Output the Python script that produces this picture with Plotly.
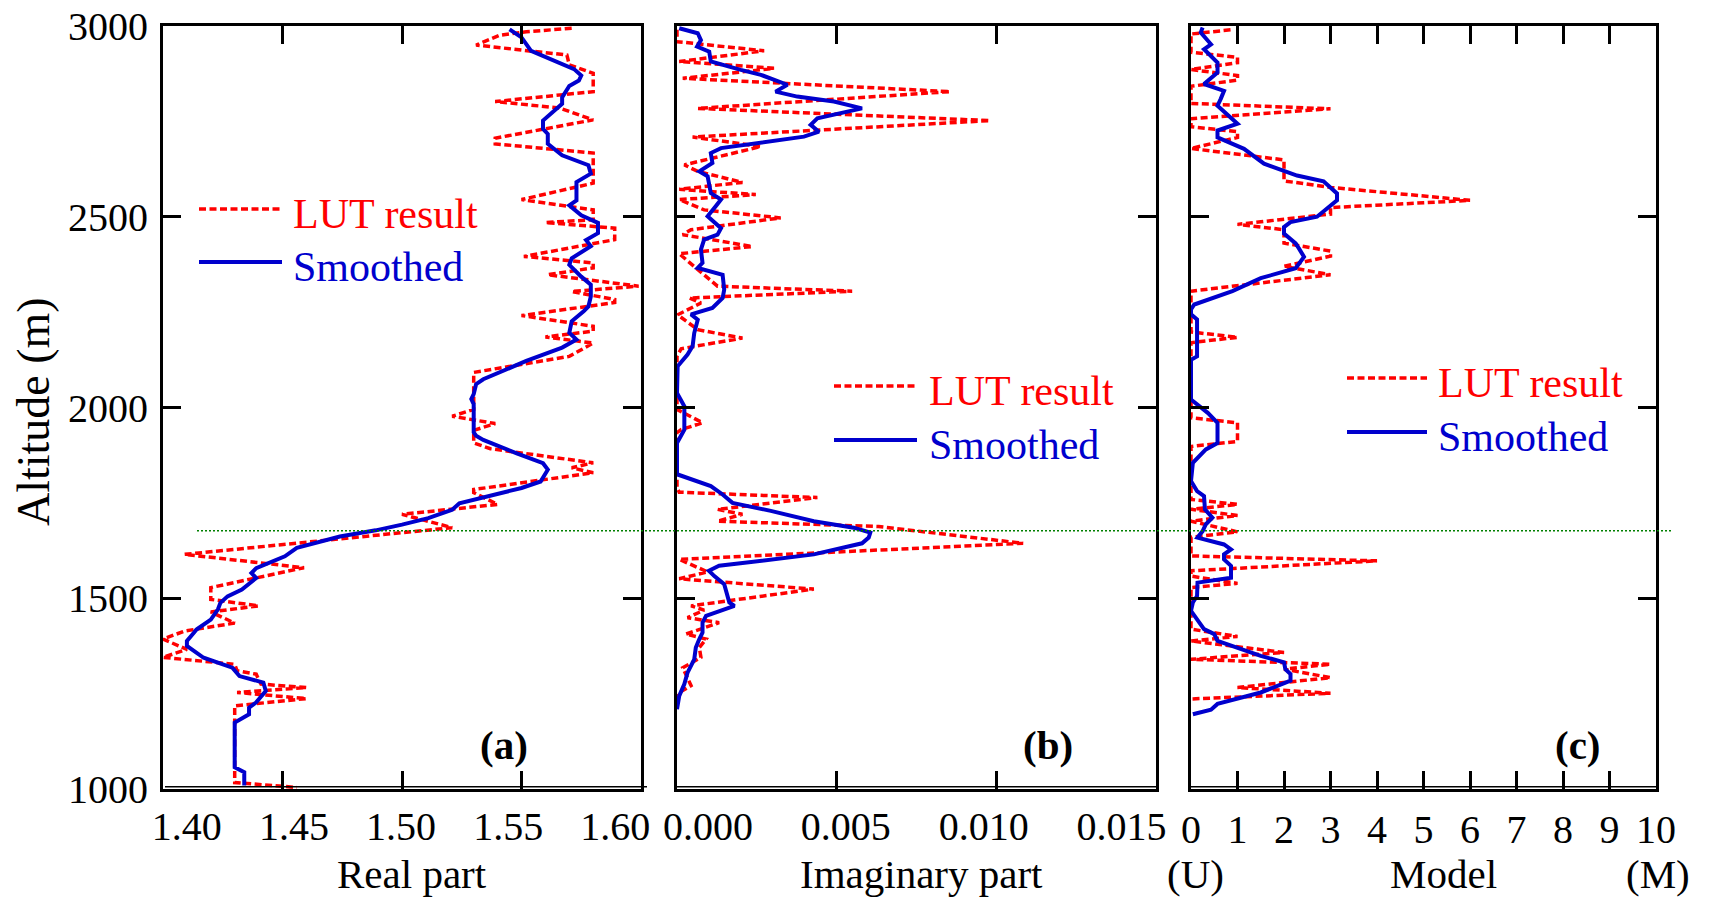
import plotly.graph_objects as go

# ---------------- data ----------------
# (a) Real part
alt_real_lut = [2994, 2985, 2976, 2950, 2924, 2898, 2876, 2828, 2802, 2785, 2754, 2706, 2691, 2667,
                2588, 2545, 2518, 2492, 2485, 2470, 2440, 2396, 2379, 2366, 2348, 2318, 2304, 2283,
                2275, 2241, 2213, 2200, 2185, 2169, 2134, 2092, 2080, 1995, 1977, 1958, 1940, 1907,
                1892, 1855, 1842, 1829, 1785, 1777, 1746, 1720, 1685, 1615, 1580, 1528, 1497, 1480,
                1464, 1435, 1414, 1393, 1366, 1345, 1327, 1310, 1301, 1275, 1266, 1253, 1237, 1218,
                1017, 1004]
real_lut = [1.571, 1.552, 1.541, 1.531, 1.569, 1.570, 1.580, 1.580, 1.539, 1.566, 1.580, 1.539, 1.539, 1.580,
            1.580, 1.550, 1.580, 1.580, 1.560, 1.589, 1.589, 1.551, 1.580, 1.580, 1.561, 1.599, 1.571, 1.589,
            1.589, 1.550, 1.580, 1.580, 1.560, 1.580, 1.570, 1.530, 1.530, 1.530, 1.521, 1.539, 1.530, 1.530,
            1.537, 1.580, 1.571, 1.580, 1.530, 1.530, 1.540, 1.500, 1.521, 1.409, 1.459, 1.420, 1.420, 1.440,
            1.420, 1.430, 1.409, 1.400, 1.410, 1.400, 1.430, 1.431, 1.439, 1.441, 1.460, 1.431, 1.460, 1.430,
            1.430, 1.456]
alt_real_sm = [2991, 2970, 2935, 2904, 2887, 2870, 2857, 2843, 2813, 2796, 2752, 2730, 2717, 2691, 2661,
               2635, 2613, 2591, 2543, 2530, 2504, 2484, 2457, 2439, 2423, 2391, 2374, 2343, 2322, 2291,
               2265, 2252, 2226, 2196, 2178, 2157, 2135, 2122, 2074, 2061, 2035, 2022, 2009, 1935, 1926,
               1915, 1880, 1854, 1837, 1806, 1789, 1767, 1749, 1732, 1710, 1693, 1678, 1662, 1632, 1610,
               1579, 1566, 1553, 1523, 1505, 1488, 1471, 1444, 1418, 1410, 1388, 1375, 1344, 1318, 1296,
               1279, 1257, 1227, 1213, 1196, 1174, 1057, 1044, 1009]
real_sm = [1.545, 1.550, 1.554, 1.566, 1.572, 1.575, 1.574, 1.570, 1.567, 1.567, 1.559, 1.559, 1.561, 1.561, 1.567,
           1.578, 1.579, 1.573, 1.573, 1.570, 1.575, 1.582, 1.582, 1.577, 1.579, 1.571, 1.570, 1.575, 1.579, 1.579,
           1.578, 1.576, 1.571, 1.570, 1.573, 1.567, 1.557, 1.552, 1.534, 1.531, 1.530, 1.529, 1.530, 1.530, 1.531,
           1.534, 1.548, 1.559, 1.561, 1.558, 1.550, 1.535, 1.524, 1.521, 1.511, 1.500, 1.489, 1.474, 1.456, 1.451,
           1.439, 1.437, 1.439, 1.433, 1.427, 1.424, 1.423, 1.420, 1.414, 1.413, 1.410, 1.410, 1.417, 1.429, 1.432,
           1.442, 1.443, 1.439, 1.436, 1.436, 1.430, 1.430, 1.434, 1.434]

# (b) Imaginary part
alt_imag_lut = [2990, 2959, 2935, 2907, 2889, 2863, 2828, 2784, 2752, 2709, 2684, 2636, 2619, 2590, 2572,
                2558, 2545, 2518, 2497, 2466, 2453, 2422, 2403, 2370, 2318, 2305, 2287, 2274, 2243, 2204,
                2182, 2154, 2134, 1995, 1960, 1942, 1934, 1790, 1778, 1764, 1733, 1720, 1702, 1688, 1644,
                1602, 1569, 1551, 1524, 1480, 1469, 1449, 1436, 1406, 1393, 1371, 1345, 1318, 1271, 1253,
                1236]
imag_lut = [0.0, 0.0, 0.00273, 0.00007, 0.00304, 0.00018, 0.00856, 0.00065, 0.00981, 0.00049, 0.00263, 0.00023,
            0.00065, 0.00205, 0.00007, 0.00247, 0.00007, 0.00085, 0.00325, 0.00044, 0.00018, 0.00236, 0.00007,
            0.00054, 0.00127, 0.00549, 0.00039, 0.00075, 0.00002, 0.00065, 0.00205, 0.00013, 0.0, 0.0, 0.0008,
            0.00013, 0.0, 0.0, 0.00007, 0.0044, 0.00127, 0.00205, 0.00127, 0.00632, 0.01085, 0.00007, 0.00096,
            0.00007, 0.00429, 0.00044, 0.00085, 0.00033, 0.00132, 0.00028, 0.00091, 0.0007, 0.00075, 0.00018,
            0.00044, 0.00007, 0.0]
alt_imag_sm = [2994, 2981, 2963, 2946, 2933, 2907, 2885, 2872, 2846, 2828, 2815, 2802, 2784, 2758, 2741,
               2723, 2710, 2693, 2680, 2667, 2641, 2619, 2606, 2562, 2545, 2528, 2501, 2470, 2453, 2440,
               2414, 2379, 2366, 2348, 2309, 2287, 2261, 2244, 2230, 2195, 2161, 2139, 2108, 2038, 2003,
               1942, 1907, 1825, 1807, 1794, 1772, 1750, 1729, 1702, 1685, 1672, 1659, 1644, 1615, 1585,
               1572, 1558, 1537, 1489, 1480, 1471, 1454, 1436, 1410, 1393, 1371, 1340, 1305, 1275, 1244,
               1209]
imag_sm = [0.00007, 0.00065, 0.00075, 0.00063, 0.00101, 0.00106, 0.0020, 0.00263, 0.00346, 0.00309, 0.00377,
           0.00492, 0.0058, 0.0044, 0.00419, 0.00445, 0.00398, 0.00242, 0.00138, 0.00106, 0.00111, 0.0007,
           0.00096, 0.00106, 0.00138, 0.00122, 0.00096, 0.00138, 0.00127, 0.00085, 0.00075, 0.0008, 0.00065,
           0.00143, 0.00148, 0.00143, 0.00111, 0.00044, 0.00065, 0.00054, 0.00049, 0.00033, 0.00002, 0.0,
           0.00023, 0.00023, 0.0, 0.0, 0.00065, 0.00106, 0.00143, 0.00174, 0.00294, 0.00429, 0.00554, 0.00606,
           0.00601, 0.0058, 0.00429, 0.00132, 0.0010, 0.00117, 0.00148, 0.00164, 0.0018, 0.00148, 0.00091,
           0.0008, 0.0008, 0.0007, 0.00059, 0.00054, 0.00033, 0.00023, 0.00007, 0.0]

# (c) Model (0 = U ... 10 = M)
alt_model_lut = [2990, 2979, 2931, 2918, 2904, 2886, 2870, 2858, 2842, 2797, 2783, 2757, 2736, 2723, 2708,
                 2679, 2649, 2610, 2594, 2577, 2543, 2524, 2507, 2480, 2466, 2431, 2410, 2397, 2370, 2348,
                 2305, 2198, 2184, 2170, 1973, 1960, 1911, 1898, 1759, 1746, 1733, 1717, 1702, 1674, 1660,
                 1611, 1598, 1572, 1558, 1539, 1528, 1419, 1400, 1388, 1358, 1340, 1327, 1314, 1292, 1266,
                 1251, 1236]
model_lut = [0.85, 0, 0, 1, 1, 0, 1, 1, 0, 0, 3, 0, 0, 1, 1,
             0, 2, 2, 2, 3, 6, 3, 3, 1, 2, 2, 3, 3, 2, 3,
             0, 0, 1, 0, 0, 1, 1, 0, 0, 1, 0, 1, 0, 1, 0,
             0, 4, 0, 0, 1, 0, 0, 1, 0, 2, 0, 3, 2, 3, 1,
             3, 0]
alt_model_sm = [2996, 2983, 2952, 2939, 2904, 2878, 2848, 2830, 2809, 2791, 2744, 2726, 2708, 2678, 2639,
                2608, 2593, 2561, 2543, 2500, 2486, 2473, 2456, 2430, 2417, 2395, 2365, 2339, 2305, 2270,
                2257, 2244, 2231, 2134, 2125, 2021, 1986, 1960, 1907, 1890, 1855, 1807, 1781, 1768, 1733,
                1711, 1694, 1676, 1659, 1641, 1628, 1615, 1602, 1585, 1554, 1541, 1506, 1489, 1467, 1441,
                1419, 1406, 1388, 1349, 1332, 1314, 1301, 1284, 1253, 1223, 1208, 1196]
model_sm = [0.25, 0.21, 0.43, 0.28, 0.57, 0.57, 0.28, 0.71, 0.64, 0.57, 1.0, 0.57, 0.57, 1.14, 1.57,
            2.28, 2.85, 3.14, 3.14, 2.71, 2.14, 2.0, 2.0, 2.25, 2.32, 2.43, 2.25, 1.5, 0.89, 0.07,
            0.0, 0.0, 0.13, 0.13, 0.0, 0.0, 0.36, 0.57, 0.57, 0.32, 0.04, 0.0, 0.13, 0.28, 0.30,
            0.46, 0.32, 0.25, 0.14, 0.71, 0.86, 0.71, 0.71, 0.86, 0.86, 0.14, 0.13, 0.04, 0.0, 0.14,
            0.28, 0.50, 0.57, 1.5, 2.0, 2.03, 2.14, 2.14, 1.5, 0.57, 0.43, 0.04]

for a, b in [(alt_real_lut, real_lut), (alt_real_sm, real_sm), (alt_imag_lut, imag_lut),
             (alt_imag_sm, imag_sm), (alt_model_lut, model_lut), (alt_model_sm, model_sm)]:
    assert len(a) == len(b), (len(a), len(b))

alt_ticks = [1000, 1500, 2000, 2500, 3000]
real_ticks = [1.40, 1.45, 1.50, 1.55, 1.60]
real_ticktext = ["1.40", "1.45", "1.50", "1.55", "1.60"]
imag_ticks = [0.0, 0.005, 0.010, 0.015]
imag_ticktext = ["0.000", "0.005", "0.010", "0.015"]
model_ticks = list(range(0, 11))
model_ticktext = [str(v) for v in model_ticks]
boundary_alt = 1677  # green dotted reference line

# ---------------- styling ----------------
RED = "#FF0000"
BLUE = "#0000CD"
FONT = "Liberation Serif"
W, H = 1717, 899
ML, MR, MT, MB = 163, 61, 26, 110
PW, PH = W - ML - MR, H - MT - MB


def px(xp):
    return (xp - ML) / PW


def py(yp):
    return (H - MB - yp) / PH


dom_a = [0.0, px(641)]
dom_b = [px(677), px(1155.5)]
dom_c = [px(1191), 1.0]

lut_line = dict(color=RED, width=3.5, dash="7px,3.5px")
sm_line = dict(color=BLUE, width=4)

fig = go.Figure()
fig.add_trace(go.Scatter(x=real_lut, y=alt_real_lut, mode="lines", line=lut_line, name="LUT result",
                         xaxis="x", yaxis="y", showlegend=False))
fig.add_trace(go.Scatter(x=real_sm, y=alt_real_sm, mode="lines", line=sm_line, name="Smoothed",
                         xaxis="x", yaxis="y", showlegend=False))
fig.add_trace(go.Scatter(x=imag_lut, y=alt_imag_lut, mode="lines", line=lut_line, name="LUT result",
                         xaxis="x2", yaxis="y2", showlegend=False))
fig.add_trace(go.Scatter(x=imag_sm, y=alt_imag_sm, mode="lines", line=sm_line, name="Smoothed",
                         xaxis="x2", yaxis="y2", showlegend=False))
fig.add_trace(go.Scatter(x=model_lut, y=alt_model_lut, mode="lines", line=lut_line, name="LUT result",
                         xaxis="x3", yaxis="y3", showlegend=False))
fig.add_trace(go.Scatter(x=model_sm, y=alt_model_sm, mode="lines", line=sm_line, name="Smoothed",
                         xaxis="x3", yaxis="y3", showlegend=False))
# empty traces so the label-only overlay axes are drawn
fig.add_trace(go.Scatter(x=[], y=[], xaxis="x4", yaxis="y", showlegend=False, hoverinfo="skip"))
fig.add_trace(go.Scatter(x=[], y=[], xaxis="x5", yaxis="y2", showlegend=False, hoverinfo="skip"))

tickfont = dict(family=FONT, size=40, color="black")
frame = dict(showline=True, linewidth=3, linecolor="black", mirror="ticks", ticks="inside",
             ticklen=18, tickwidth=3, tickcolor="black", showgrid=False, zeroline=False,
             automargin=False)
label_only = dict(ticks="", showline=False, showgrid=False, zeroline=False, automargin=False,
                  tickfont=tickfont, ticklabelstandoff=10, side="bottom")

fig.update_layout(
    width=W, height=H, margin=dict(l=ML, r=MR, t=MT, b=MB, autoexpand=False),
    paper_bgcolor="white", plot_bgcolor="white", showlegend=False,
    xaxis=dict(domain=dom_a, range=[1.40, 1.60], tickvals=real_ticks, showticklabels=False,
               anchor="y", **frame),
    xaxis2=dict(domain=dom_b, range=[0.0, 0.015], tickvals=imag_ticks, showticklabels=False,
                anchor="y2", **frame),
    xaxis3=dict(domain=dom_c, range=[0, 10], tickvals=model_ticks, ticktext=model_ticktext,
                tickfont=tickfont, ticklabelstandoff=3, anchor="y3", **frame),
    xaxis4=dict(overlaying="x", anchor="y", range=[1.38888, 1.61199],
                tickvals=real_ticks, ticktext=real_ticktext, **label_only),
    xaxis5=dict(overlaying="x2", anchor="y2", range=[-0.001121, 0.016233],
                tickvals=imag_ticks, ticktext=imag_ticktext, **label_only),
    yaxis=dict(domain=[0, 1], range=[1000, 3000], tickvals=alt_ticks, tickfont=tickfont,
               anchor="x", ticklabelstandoff=4, **frame),
    yaxis2=dict(domain=[0, 1], matches="y", tickvals=alt_ticks, showticklabels=False, anchor="x2", **frame),
    yaxis3=dict(domain=[0, 1], matches="y", tickvals=alt_ticks, showticklabels=False, anchor="x3", **frame),
)

shapes = []
# green dotted boundary line across all panels
shapes.append(dict(type="line", xref="paper", yref="y", x0=px(197), x1=px(1673), y0=boundary_alt,
                   y1=boundary_alt, line=dict(color="#008000", width=1.5, dash="2px,2px")))
# thin second bottom line under each panel
for x0, x1 in [(165, 647), (676, 1158), (1190, 1658)]:
    shapes.append(dict(type="line", xref="paper", yref="paper", x0=px(x0), x1=px(x1), y0=py(786.7),
                       y1=py(786.7), line=dict(color="black", width=1.5)))

annotations = []
# legends (drawn per panel)
legend_pos = [  # (line x0, line x1, text x, LUT line y, Smoothed line y)
    (199, 282, 291, 209, 262),
    (834, 917, 927, 386, 440),
    (1347, 1427, 1436, 378, 432),
]
for lx0, lx1, tx, ly1, ly2 in legend_pos:
    shapes.append(dict(type="line", xref="paper", yref="paper", x0=px(lx0), x1=px(lx1),
                       y0=py(ly1), y1=py(ly1), line=lut_line))
    shapes.append(dict(type="line", xref="paper", yref="paper", x0=px(lx0), x1=px(lx1),
                       y0=py(ly2), y1=py(ly2), line=sm_line))
    annotations.append(dict(text="LUT result", xref="paper", yref="paper", x=px(tx), y=py(ly1 + 5),
                            xanchor="left", yanchor="middle", showarrow=False,
                            font=dict(family=FONT, size=42, color=RED)))
    annotations.append(dict(text="Smoothed", xref="paper", yref="paper", x=px(tx), y=py(ly2 + 5),
                            xanchor="left", yanchor="middle", showarrow=False,
                            font=dict(family=FONT, size=42, color=BLUE)))

# panel labels
for lab, cx in [("(a)", 504), ("(b)", 1048), ("(c)", 1578)]:
    annotations.append(dict(text="<b>%s</b>" % lab, xref="paper", yref="paper", x=px(cx), y=py(745),
                            xanchor="center", yanchor="middle", showarrow=False,
                            font=dict(family=FONT, size=41, color="black")))

# axis titles
for txt, cx in [("Real part", 412), ("Imaginary part", 921), ("Model", 1443), ("(U)", 1195), ("(M)", 1658)]:
    annotations.append(dict(text=txt, xref="paper", yref="paper", x=px(cx), y=py(899),
                            xanchor="center", yanchor="bottom", showarrow=False,
                            font=dict(family=FONT, size=41, color="black")))
annotations.append(dict(text="Altitude (m)", xref="paper", yref="paper", x=px(33), y=py(412),
                        xanchor="center", yanchor="middle", textangle=-90, showarrow=False,
                        font=dict(family=FONT, size=46, color="black")))

fig.update_layout(shapes=shapes, annotations=annotations)

fig.write_html("out.html", config={"displayModeBar": False},
               post_script="document.body.style.margin='0px';")
